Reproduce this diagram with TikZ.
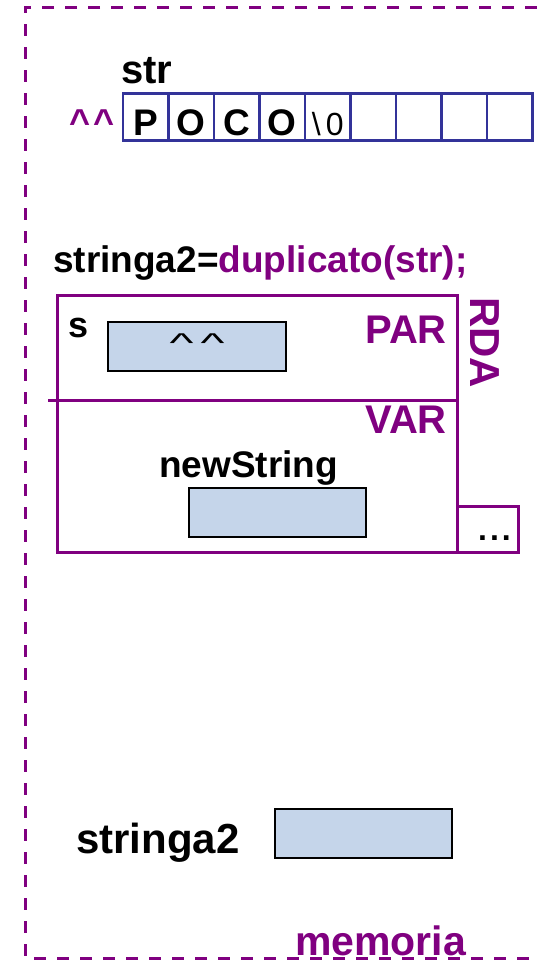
\documentclass[tikz,border=0pt]{standalone}
\usepackage{fontspec}
\setmainfont{Liberation Sans}
\usepackage{tikz}
\usetikzlibrary{positioning}

\definecolor{viola}{HTML}{800080}
\definecolor{bluarray}{HTML}{333399}
\definecolor{celeste}{HTML}{C5D5EA}

\newcommand{\zeroterm}{{\mdseries\fontsize{32}{32}\selectfont\textbackslash\hspace{5pt}0}}
\newcommand{\puntat}{\scalebox{1.5}[0.8]{\textasciicircum}}

\begin{document}
\begin{tikzpicture}[x=1pt, y=-1pt,
    etich/.style={inner sep=0pt, font=\bfseries\fontsize{#1}{#1}\selectfont},
    etich/.default=36,
    cella/.style={rectangle, draw=bluarray, line width=2.7pt, outer sep=0pt, inner sep=0pt,
      minimum width=45.5pt, minimum height=47pt, text height=36pt, text depth=0pt,
      font=\bfseries\fontsize{37}{37}\selectfont},
    scatola/.style={rectangle, draw=black, line width=1.8pt, fill=celeste, inner sep=0pt,
      minimum width=177pt, minimum height=49pt},
    cornice/.style={draw=viola, line width=3pt}]
  \useasboundingbox (0,0) rectangle (537,962);

  % Memoria
  \draw[viola, line width=3pt, dash pattern=on 12pt off 11pt] (537,7) -- (25,7) -- (25,958) -- (537,958);
  \node[etich=41, text=viola, anchor=base west] (mem) at (295,955) {memoria};

  % Array str
  \foreach \t [count=\i] in {P,O,C,O,\zeroterm,{},{},{},{}}
    \node[cella] (c\i) at ({123+45.5*(\i-0.5)},117) {\t};
  \node[etich=40, anchor=base west] (str) at (121,83) {str};
  \node[etich, text=viola, anchor=base east] (ind) at (115,134) {\textasciicircum\hspace{3pt}\textasciicircum};

  % Chiamata
  \node[etich=37, anchor=base west] (chiamata) at (53,272) {stringa2=\textcolor{viola}{duplicato(str);}};

  % Record di attivazione
  \node[cornice, rectangle, minimum width=400pt, minimum height=257pt, inner sep=0pt, outer sep=0pt] (rda) at (257,423.5) {};
  \coordinate (sep) at (48,400);
  \draw[cornice] (sep) -- (sep -| rda.east);
  \node[cornice, rectangle, minimum width=61pt, minimum height=46pt, inner sep=0pt, outer sep=0pt, anchor=south west] (altro) at (rda.south east) {};
  \node[etich=32, anchor=base west] (dots) at (478,540) {.\hspace{3pt}.\hspace{3pt}.};
  \node[etich=42, text=viola, rotate=-90, anchor=base west] (rdalab) at (470,297) {RDA};
  \node[etich=40, text=viola, anchor=base east] (par) at (447,343) {PAR};
  \node[etich=40, text=viola, anchor=base east] (varlab) at (447,433) {VAR};

  % Parametro s
  \node[etich, anchor=base west] (s) at (68,337) {s};
  \node[scatola, minimum width=178pt] (boxs) at (197,346.5) {};
  \node[inner sep=0pt, font=\fontsize{34}{34}\selectfont, anchor=base] (punts) at (197,352) {\puntat\hspace{7pt}\puntat};

  % Variabile newString
  \node[etich=37, anchor=base west] (nsl) at (159,477) {newString};
  \node[scatola] (boxns) at (277.5,512.5) {};

  % Variabile stringa2
  \node[etich=42, anchor=base west] (s2l) at (76,853) {stringa2};
  \node[scatola] (boxs2) at (363.5,833.5) {};
\end{tikzpicture}
\end{document}
